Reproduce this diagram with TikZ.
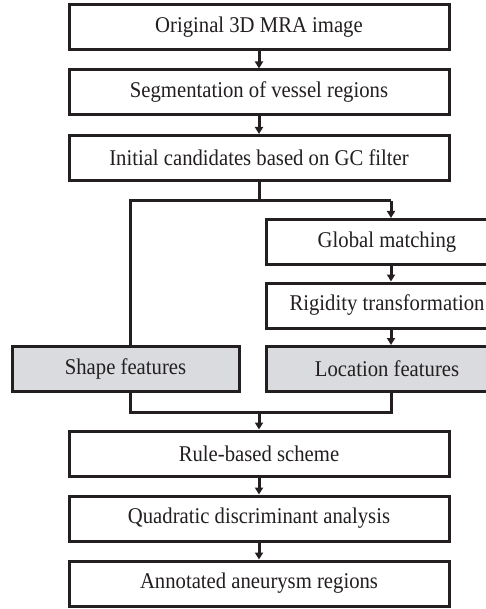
\documentclass[tikz,border=0pt]{standalone}
\usepackage{fontspec}
\setmainfont[FakeStretch=0.92]{Liberation Serif}
\usetikzlibrary{arrows.meta}
\definecolor{ink}{HTML}{231F20}
\definecolor{boxgray}{HTML}{D9DBDE}
\begin{document}
\begin{tikzpicture}[x=1pt,y=-1pt,
  box/.style={draw=ink,line width=3pt,fill=white,minimum height=45pt,inner sep=0pt,
    font=\fontsize{22.5}{26}\selectfont,text=ink},
  wide/.style={box,minimum width=380pt},
  rbox/.style={box,minimum width=242pt},
  grey/.style={fill=boxgray},
  link/.style={draw=ink,line width=3pt},
  arr/.style={link,-{Triangle[length=7pt,width=8pt]}}]
\useasboundingbox (0,0) rectangle (486,609);
\clip (0,0) rectangle (486,609);
\node[wide] (n1) at (259,27.5) {Original 3D MRA image};
\node[wide] (n2) at (259,92.5) {Segmentation of vessel regions};
\node[wide] (n3) at (259,158) {Initial candidates based on GC filter};
\node[rbox] (n4) at (387,242) {Global matching};
\node[rbox] (n5) at (387,305.5) {Rigidity transformation};
\node[rbox,grey] (n6) at (387,369) {Location features};
\node[box,grey,minimum width=227pt] (n7) at (125.5,369) {Shape features};
\node[wide] (n8) at (259,453.5) {Rule-based scheme};
\node[wide] (n9) at (259,518.5) {Quadratic discriminant analysis};
\node[wide] (n10) at (259,583.5) {Annotated aneurysm regions};
\coordinate (split) at (259,201);
\coordinate (splitL) at (130,201);
\coordinate (splitR) at (391,201);
\coordinate (merge) at (259,412);
\coordinate (mergeL) at (130,412);
\coordinate (mergeR) at (391,412);
\draw[arr] (n1.south) -- (n2.north);
\draw[arr] (n2.south) -- (n3.north);
\draw[link] (n3.south) -- (split);
\draw[link] (n7.north -| splitL) -- (splitL) -- (splitR);
\draw[arr] (splitR) -- (splitR |- n4.north);
\draw[arr] (n4.south -| splitR) -- (splitR |- n5.north);
\draw[arr] (n5.south -| splitR) -- (splitR |- n6.north);
\draw[link] (n7.south -| mergeL) -- (mergeL) -- (mergeR) -- (n6.south -| mergeR);
\draw[arr] (merge) -- (n8.north);
\draw[arr] (n8.south) -- (n9.north);
\draw[arr] (n9.south) -- (n10.north);
\end{tikzpicture}
\end{document}
